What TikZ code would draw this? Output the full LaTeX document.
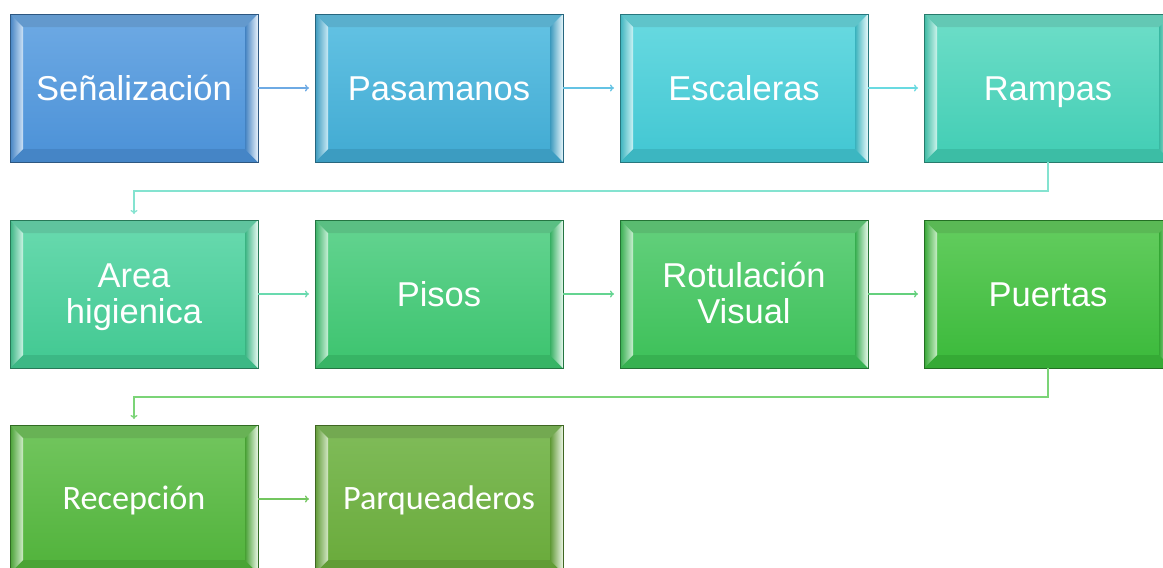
\documentclass[tikz,border=0pt]{standalone}
\usepackage{fontspec}
\setmainfont{Liberation Sans}
\newfontfamily\calfont{Carlito}
\usetikzlibrary{arrows.meta,calc}
\definecolor{c1a}{RGB}{110,170,228}\definecolor{c1b}{RGB}{75,145,215}
\definecolor{c2a}{RGB}{100,195,228}\definecolor{c2b}{RGB}{65,170,210}
\definecolor{c3a}{RGB}{105,218,225}\definecolor{c3b}{RGB}{65,198,210}
\definecolor{c4a}{RGB}{110,222,200}\definecolor{c4b}{RGB}{65,205,180}
\definecolor{c5a}{RGB}{105,218,175}\definecolor{c5b}{RGB}{65,200,145}
\definecolor{c6a}{RGB}{100,212,145}\definecolor{c6b}{RGB}{60,195,110}
\definecolor{c7a}{RGB}{100,208,125}\definecolor{c7b}{RGB}{60,192,88}
\definecolor{c8a}{RGB}{100,205,95}\definecolor{c8b}{RGB}{58,185,58}
\definecolor{c9a}{RGB}{115,198,95}\definecolor{c9b}{RGB}{80,178,58}
\definecolor{c10a}{RGB}{128,188,90}\definecolor{c10b}{RGB}{105,170,58}
\tikzset{
 bbox/.style={rectangle, minimum width=248pt, minimum height=148pt, inner sep=0pt, outer sep=0pt},
 btext/.style={anchor=base, inner sep=0pt, text=white},
 conn/.style={line width=1.3pt, -{To[length=4pt,width=7pt]}, shorten >=6pt},
}
\newcommand\bevbox[4]{%
 \node[bbox, top color=#3, bottom color=#4] (#1) at (#2) {};
 \coordinate (#1-ia) at ($(#1.north west)+(13,13)$);
 \coordinate (#1-ib) at ($(#1.north east)+(-13,13)$);
 \coordinate (#1-ic) at ($(#1.south east)+(-13,-13)$);
 \coordinate (#1-id) at ($(#1.south west)+(13,-13)$);
 \fill[#3!90!black] (#1.north west) -- (#1.north east) -- (#1-ib) -- (#1-ia) -- cycle;
 \fill[#4!92!black] (#1.south west) -- (#1.south east) -- (#1-ic) -- (#1-id) -- cycle;
 \shade[left color=#4!90!black, right color=#3!35!white] (#1.north west) -- (#1-ia) -- (#1-id) -- (#1.south west) -- cycle;
 \shade[left color=#4!90!black, right color=#3!15!white] (#1.north east) -- (#1-ib) -- (#1-ic) -- (#1.south east) -- cycle;
 \draw[#4!60!black, line width=1pt] (#1.north west) rectangle (#1.south east);
}
\newcommand\oneline[3]{\node[btext, font=#2] (#1-t) at ($(#1.center)+(0,12)$) {#3};}
\newcommand\twoline[3]{%
 \node[btext, font=\ff] (#1-t1) at ($(#1.center)+(0,-7)$) {#2};
 \node[btext, font=\ff] (#1-t2) at ($(#1.center)+(0,29)$) {#3};}
\begin{document}
\begin{tikzpicture}[x=1pt,y=-1pt]
\path[use as bounding box] (0,0) rectangle (1163,568);
\clip (0,0) rectangle (1163,568);
\fill[white] (0,0) rectangle (1163,568);
\def\ff{\fontsize{34.5}{38}\selectfont}
\def\cf{\calfont\fontsize{34.2}{38}\selectfont}
\bevbox{s}{134,88}{c1a}{c1b}
\bevbox{p}{439,88}{c2a}{c2b}
\bevbox{e}{744,88}{c3a}{c3b}
\bevbox{r}{1048,88}{c4a}{c4b}
\bevbox{a}{134,294}{c5a}{c5b}
\bevbox{pi}{439,294}{c6a}{c6b}
\bevbox{ro}{744,294}{c7a}{c7b}
\bevbox{pu}{1048,294}{c8a}{c8b}
\bevbox{re}{134,499}{c9a}{c9b}
\bevbox{pq}{439,499}{c10a}{c10b}
\oneline{s}{\ff}{Señalización}
\oneline{p}{\ff}{Pasamanos}
\oneline{e}{\ff}{Escaleras}
\oneline{r}{\ff}{Rampas}
\twoline{a}{Area}{higienica}
\oneline{pi}{\ff}{Pisos}
\twoline{ro}{Rotulación}{Visual}
\oneline{pu}{\ff}{Puertas}
\node[btext, font=\cf] (re-t) at ($(re.center)+(0,10)$) {Recepción};
\node[btext, font=\cf] (pq-t) at ($(pq.center)+(0,10)$) {Parqueaderos};
\draw[conn, c1a] (s.east) -- (p.west);
\draw[conn, c2a] (p.east) -- (e.west);
\draw[conn, c3a] (e.east) -- (r.west);
\draw[conn, c4a!85!white] (r.south) -- ++(0,29) -| (a.north);
\draw[conn, c5a] (a.east) -- (pi.west);
\draw[conn, c6a] (pi.east) -- (ro.west);
\draw[conn, c7a] (ro.east) -- (pu.west);
\draw[conn, c8a!85!white] (pu.south) -- ++(0,29) -| (re.north);
\draw[conn, c9a] (re.east) -- (pq.west);
\end{tikzpicture}
\end{document}
